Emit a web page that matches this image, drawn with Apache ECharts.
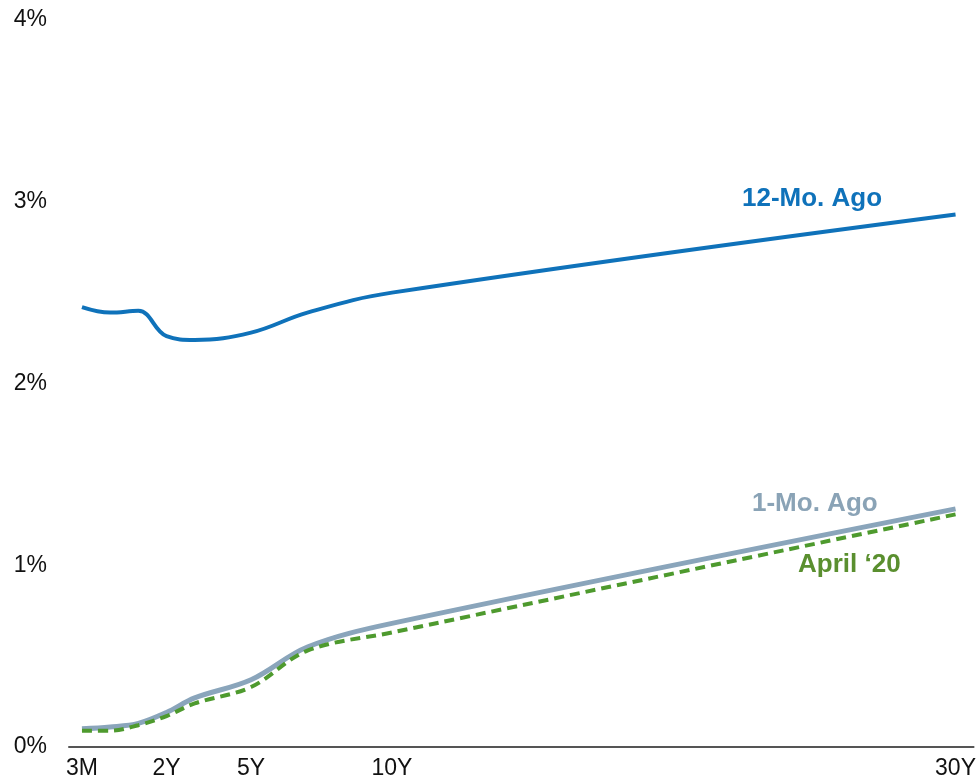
<!DOCTYPE html>
<html>
<head>
<meta charset="utf-8">
<script src="https://cdn.jsdelivr.net/npm/echarts@6/dist/echarts.min.js"></script>
<style>
  html, body { margin: 0; padding: 0; background: #fff; }
  #chart { width: 979px; height: 781px; }
</style>
</head>
<body>
<div id="chart"></div>
<script>
// maturities in years
var tenors = [0.25, 0.5, 1, 2, 3, 5, 7, 10, 30]
var tickTenors = [0.25, 2, 5, 10, 30]
var tickLabels = ['3M', '2Y', '5Y', '10Y', '30Y']

var yield12MoAgo = [2.42, 2.39, 2.40, 2.26, 2.24, 2.28, 2.39, 2.50, 2.93]
var yield1MoAgo = [0.10, 0.11, 0.13, 0.19, 0.27, 0.37, 0.55, 0.68, 1.31]
var yieldApril20 = [0.09, 0.09, 0.12, 0.17, 0.24, 0.33, 0.53, 0.63, 1.28]

// chart stretches the sub-1Y part of the curve
function pos(m) {
  return m >= 1 ? m : (m - 0.5) * 4
}

function pairs(vals) {
  return tenors.map(function (t, i) { return [pos(t), vals[i]] })
}

var chart = echarts.init(document.getElementById('chart'))
var font = 'Liberation Sans, Arial, sans-serif'

chart.setOption({
  animation: false,
  grid: { left: 69, right: 4, top: 20, bottom: 34 },
  xAxis: {
    type: 'value',
    min: -1.46,
    max: 30.64,
    splitLine: { show: false },
    axisTick: { show: false },
    axisLine: { lineStyle: { color: '#555', width: 2 } },
    axisLabel: {
      customValues: tickTenors.map(pos),
      margin: 10,
      fontSize: 23,
      color: '#111',
      fontFamily: font,
      formatter: function (v) {
        for (var i = 0; i < tickTenors.length; i++) {
          if (Math.abs(pos(tickTenors[i]) - v) < 1e-6) return tickLabels[i]
        }
        return ''
      }
    }
  },
  yAxis: {
    type: 'value',
    min: 0,
    max: 4,
    interval: 1,
    splitLine: { show: false },
    axisLine: { show: false },
    axisTick: { show: false },
    axisLabel: {
      formatter: '{value}%',
      margin: 22,
      fontSize: 23,
      color: '#111',
      fontFamily: font
    }
  },
  series: [
    {
      name: '12-Mo. Ago',
      type: 'line',
      data: pairs(yield12MoAgo),
      smooth: 0.4,
      showSymbol: false,
      lineStyle: { color: '#0F72BA', width: 4 }
    },
    {
      name: 'April \u201820',
      type: 'line',
      data: pairs(yieldApril20),
      smooth: 0.35,
      showSymbol: false,
      z: 3,
      lineStyle: { color: '#4E9A2E', width: 4, type: [10, 6] }
    },
    {
      name: '1-Mo. Ago',
      type: 'line',
      data: pairs(yield1MoAgo),
      smooth: 0.35,
      showSymbol: false,
      z: 2,
      lineStyle: { color: '#8AA5BB', width: 5 }
    }
  ],
  graphic: [
    {
      type: 'text', left: 742, top: 186,
      style: { text: '12-Mo. Ago', fill: '#0F72BA', font: 'bold 26px ' + font }
    },
    {
      type: 'text', left: 752, top: 491,
      style: { text: '1-Mo. Ago', fill: '#8AA3B6', font: 'bold 26px ' + font }
    },
    {
      type: 'text', left: 798, top: 552,
      style: { text: 'April \u201820', fill: '#5A8F2F', font: 'bold 26px ' + font }
    }
  ]
})
</script>
</body>
</html>
